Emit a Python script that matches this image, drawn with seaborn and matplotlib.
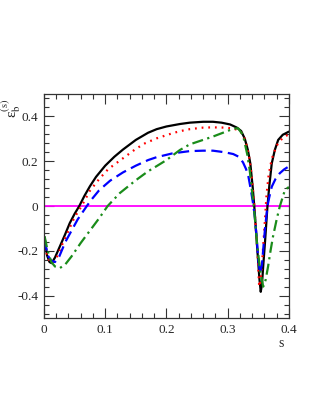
"""Recreate epsilon_b(s) curves for four models."""
import matplotlib
matplotlib.use("Agg")
import matplotlib.pyplot as plt
from matplotlib.ticker import FuncFormatter, MultipleLocator
import pandas as pd
import seaborn as sns

# values
S_BLACK = [0.001, 0.005, 0.009, 0.0125, 0.018, 0.026, 0.034, 0.042, 0.05, 0.0577,
           0.066, 0.075, 0.085, 0.1, 0.115, 0.129, 0.15, 0.17, 0.184, 0.2, 0.222,
           0.238, 0.26, 0.276, 0.29, 0.304, 0.315, 0.322, 0.328, 0.333, 0.337,
           0.341, 0.344, 0.347, 0.35, 0.352, 0.354, 0.356, 0.358, 0.361, 0.365,
           0.368, 0.372, 0.377, 0.3825, 0.39, 0.4]
E_BLACK = [-0.14, -0.22, -0.25, -0.255, -0.23, -0.18, -0.13, -0.077, -0.035, 0.0,
           0.045, 0.088, 0.13, 0.18, 0.22, 0.252, 0.295, 0.327, 0.343, 0.355, 0.366,
           0.372, 0.376, 0.376, 0.372, 0.364, 0.35, 0.335, 0.30, 0.25, 0.19,
           0.08, -0.02, -0.14, -0.256, -0.33, -0.383, -0.35, -0.27, -0.16, 0.0,
           0.09, 0.19, 0.25, 0.295, 0.318, 0.332]

S_RED = [0.001, 0.005, 0.01, 0.014, 0.02, 0.03, 0.04, 0.05, 0.0615, 0.075, 0.09,
         0.105, 0.129, 0.15, 0.165, 0.184, 0.21, 0.222, 0.238, 0.26, 0.276, 0.295,
         0.309, 0.318, 0.325, 0.33, 0.335, 0.339, 0.343, 0.346, 0.349, 0.3515,
         0.354, 0.357, 0.36, 0.3635, 0.367, 0.372, 0.38, 0.39, 0.4]
E_RED = [-0.15, -0.22, -0.25, -0.255, -0.235, -0.17, -0.11, -0.05, 0.0, 0.068, 0.12,
         0.165, 0.213, 0.255, 0.28, 0.302, 0.325, 0.334, 0.343, 0.35, 0.351, 0.35,
         0.346, 0.338, 0.32, 0.28, 0.22, 0.14, 0.02, -0.1, -0.22, -0.36,
         -0.33, -0.22, -0.1, 0.05, 0.14, 0.21, 0.27, 0.305, 0.32]

S_BLUE = [0.001, 0.006, 0.012, 0.018, 0.025, 0.035, 0.045, 0.055, 0.07, 0.078, 0.09,
          0.108, 0.129, 0.15, 0.17, 0.184, 0.21, 0.238, 0.26, 0.276, 0.295, 0.309,
          0.318, 0.325, 0.33, 0.334, 0.338, 0.341, 0.344, 0.347, 0.35, 0.353,
          0.356, 0.358, 0.361, 0.365, 0.368, 0.372, 0.378, 0.385, 0.392, 0.4]
E_BLUE = [-0.15, -0.22, -0.245, -0.25, -0.225, -0.16, -0.11, -0.06, 0.0, 0.03, 0.07,
          0.113, 0.15, 0.18, 0.205, 0.218, 0.235, 0.245, 0.247, 0.247, 0.24, 0.232,
          0.22, 0.195, 0.165, 0.13, 0.07, 0.02, -0.04, -0.13, -0.24, -0.30,
          -0.26, -0.196, -0.1, 0.0, 0.04, 0.086, 0.12, 0.146, 0.163, 0.177]

S_GREEN = [0.001, 0.006, 0.012, 0.018, 0.026, 0.035, 0.045, 0.06, 0.075, 0.09, 0.104,
           0.124, 0.15, 0.17, 0.184, 0.2, 0.222, 0.238, 0.276, 0.3, 0.309, 0.317,
           0.325, 0.328, 0.332, 0.336, 0.34, 0.344, 0.348, 0.353, 0.358, 0.362,
           0.366, 0.37, 0.374, 0.38, 0.385, 0.3935, 0.4]
E_GREEN = [-0.135, -0.2, -0.25, -0.27, -0.277, -0.26, -0.225, -0.165, -0.11, -0.055, 0.0,
           0.058, 0.115, 0.155, 0.178, 0.205, 0.25, 0.275, 0.31, 0.335, 0.345, 0.347,
           0.317, 0.28, 0.23, 0.16, 0.06, -0.04, -0.17, -0.286, -0.36, -0.33,
           -0.27, -0.2, -0.137, -0.06, -0.003, 0.071, 0.085]

MODELS = ["black", "red", "blue", "green"]
COLORS = {"black": "black", "red": "#ff0000", "blue": "#0000ff", "green": "#1a8c1a"}
DASHES = {"black": "", "red": (0.8, 2.2), "blue": (5, 2.5), "green": (5, 2, 1, 2)}
ZERO_LEVEL = 0.0

frames = []
for name, s, e in [("black", S_BLACK, E_BLACK), ("red", S_RED, E_RED),
                   ("blue", S_BLUE, E_BLUE), ("green", S_GREEN, E_GREEN)]:
    frames.append(pd.DataFrame({"s": s, "eps": e, "model": name}))
df = pd.concat(frames, ignore_index=True)

sns.set_theme(style="ticks")
plt.rcParams["font.family"] = ["Liberation Serif", "DejaVu Serif"]
plt.rcParams["mathtext.fontset"] = "stix"

fig = plt.figure(figsize=(3.21, 4.15), dpi=100)
ax = fig.add_axes([0.137, 0.2337, 0.763, 0.5398])

ax.axhline(ZERO_LEVEL, color="#ff00ff", lw=1.3, zorder=1)
sns.lineplot(data=df, x="s", y="eps", hue="model", style="model", hue_order=MODELS,
             style_order=MODELS, palette=COLORS, dashes=DASHES, sort=False,
             estimator=None, lw=1.6, legend=False, ax=ax, zorder=2)

ax.set_xlim(0, 0.4)
ax.set_ylim(-0.5, 0.5)
ax.xaxis.set_major_locator(MultipleLocator(0.1))
ax.xaxis.set_minor_locator(MultipleLocator(0.02))
ax.yaxis.set_major_locator(MultipleLocator(0.2))
ax.yaxis.set_minor_locator(MultipleLocator(0.04))
fmt = FuncFormatter(lambda v, _: "0" if abs(v) < 1e-9 else f"{v:.1f}")
ax.xaxis.set_major_formatter(fmt)
ax.yaxis.set_major_formatter(fmt)
ax.tick_params(which="both", direction="in", top=True, right=True, labelsize=9.5,
               color="#333333", width=0.8)
ax.tick_params(which="major", length=7, pad=4)
ax.tick_params(which="minor", length=3.5)
for sp in ax.spines.values():
    sp.set_linewidth(0.9)
    sp.set_color("#333333")

ax.set_xlabel("s", fontsize=10)
ax.xaxis.set_label_coords(0.97, -0.085)
ax.set_ylabel("")
fig.text(0.036, 0.74, r"ε$_{\mathrm{b}}^{\mathrm{(s)}}$", rotation=90, fontsize=11,
         ha="center", va="center")

fig.savefig("out.png", dpi=100)
